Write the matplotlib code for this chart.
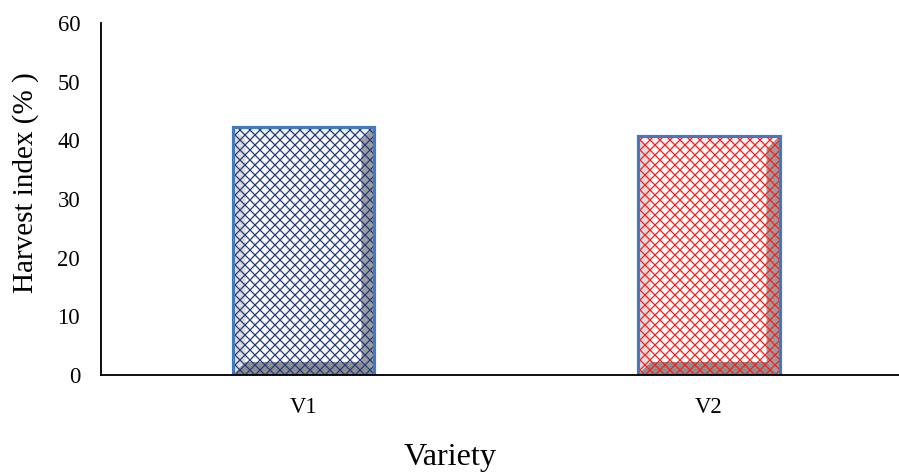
import matplotlib
matplotlib.use("Agg")
import matplotlib.pyplot as plt
from matplotlib.patches import Polygon

# Harvest index by variety
varieties = ["V1", "V2"]
harvest_index = [42.3, 40.8]
hatch_colors = ["#22397F", "#FF1A1A"]
y_ticks = [0, 10, 20, 30, 40, 50, 60]

DPI = 120
plt.rcParams["font.family"] = ["Liberation Serif", "DejaVu Serif"]
plt.rcParams["hatch.linewidth"] = 0.75

fig = plt.figure(figsize=(899 / DPI, 472 / DPI), dpi=DPI)
ax = fig.add_axes([101 / 899, 1 - 375 / 472, 1 - 101 / 899, 352 / 472])

ax.set_xlim(-0.5, 1.47)
ax.set_ylim(0, 60)

x = list(range(len(varieties)))
width = 0.35

# white base
base = ax.bar(x, harvest_index, width=width, color="white", linewidth=0, zorder=1)

fig.canvas.draw()
to_px = ax.transData
to_data = ax.transData.inverted()
bevel = 13  # pixels

for rect in base.patches:
    (px0, py0) = to_px.transform((rect.get_x(), rect.get_y()))
    (px1, py1) = to_px.transform((rect.get_x() + rect.get_width(), rect.get_y() + rect.get_height()))
    b = bevel

    def poly(pts, color):
        d = to_data.transform(pts)
        ax.add_patch(Polygon(d, closed=True, facecolor=color, edgecolor="none", zorder=2))

    # left highlight
    poly([(px0, py0), (px0 + b, py0 + b), (px0 + b, py1 - b), (px0, py1)], "#DCDCDC")
    # right shade
    poly([(px1, py0), (px1, py1), (px1 - b, py1 - b), (px1 - b, py0 + b)], "#9C9C9C")
    # bottom shade
    poly([(px0, py0), (px1, py0), (px1 - b, py0 + b), (px0 + b, py0 + b)], "#8E8E8E")
    # top highlight
    poly([(px0, py1), (px1, py1), (px1 - b, py1 - b), (px0 + b, py1 - b)], "#F4F4F4")

# crosshatch pattern
for xi, val, hc in zip(x, harvest_index, hatch_colors):
    ax.bar(xi, val, width=width, fill=False, hatch="xxxx", edgecolor=hc, linewidth=0, zorder=3)

# outline
ax.bar(x, harvest_index, width=width, fill=False, edgecolor="#4579BE", linewidth=1.9, zorder=4)

ax.set_xticks(x)
ax.set_xticklabels(varieties)
ax.set_yticks(y_ticks)
ax.tick_params(axis="both", length=0, labelsize=13.6, colors="black")
ax.tick_params(axis="y", pad=12.5)
ax.tick_params(axis="x", pad=13)

for side in ["top", "right"]:
    ax.spines[side].set_visible(False)
for side in ["left", "bottom"]:
    ax.spines[side].set_color("black")
    ax.spines[side].set_linewidth(1.1)
    ax.spines[side].set_zorder(5)

ax.set_ylabel("Harvest index (% )", fontsize=17.5, va="center")
ax.yaxis.set_label_coords((26 - 101) / 798, (375 - 182.5) / 352)
ax.set_xlabel("Variety", fontsize=19.3, va="center")
ax.xaxis.set_label_coords((450 - 101) / 798, (375 - 458) / 352)

fig.savefig("out.png", dpi=DPI)
